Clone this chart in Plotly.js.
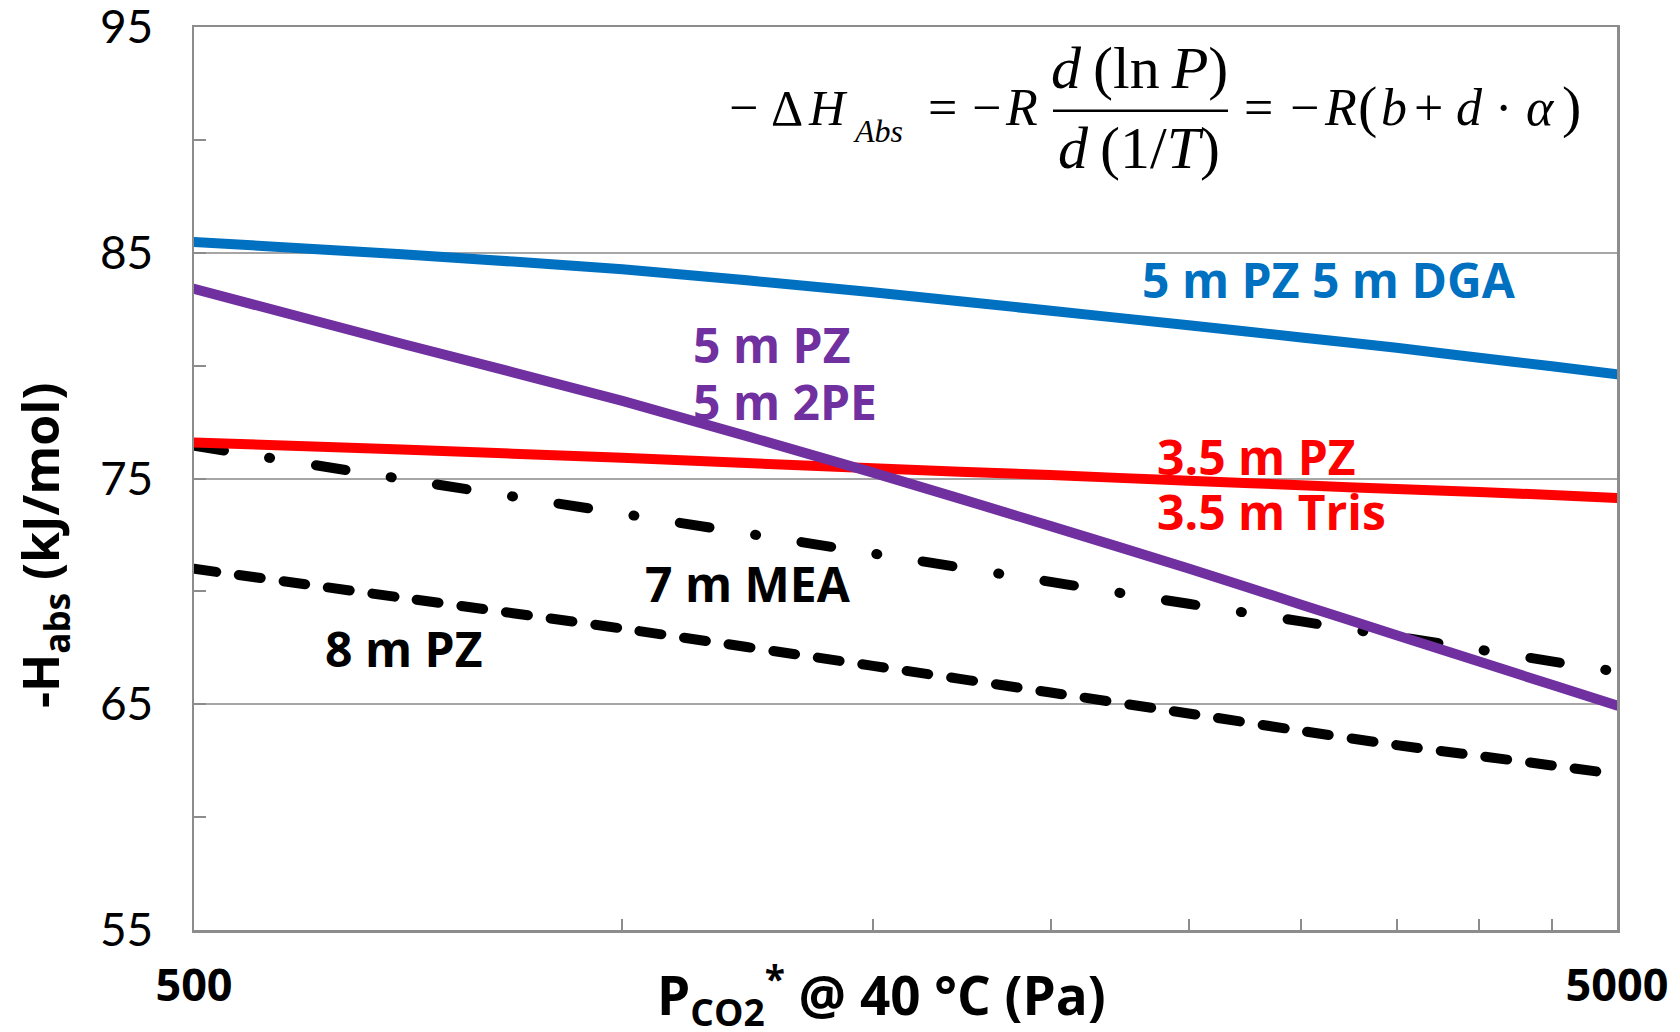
<!DOCTYPE html>
<html>
<head>
<meta charset="utf-8">
<script src="https://cdn.plot.ly/plotly-3.0.1.min.js"></script>
<style>
  html, body { margin: 0; padding: 0; background: #ffffff; }
  #chart { width: 1680px; height: 1032px; }
  /* rounded ends on the curve strokes and dashes */
  .scatterlayer .js-line { stroke-linecap: round; }
</style>
</head>
<body>
<div id="chart"></div>
<script>
// CO2 partial pressure at 40 °C (Pa)
const pressure = [500, 700, 1000, 1500, 2000, 2500, 3000, 3500, 4000, 4500, 5000];

// Heat of absorption, -H_abs (kJ/mol)
const pzDga   = [85.48, 84.93, 84.27, 83.25, 82.43, 81.79, 81.25, 80.79, 80.35, 79.97, 79.62];
const pz2pe   = [83.40, 80.97, 78.44, 75.26, 72.89, 71.01, 69.41, 68.06, 66.89, 65.86, 64.94];
const pzTris  = [76.60, 76.28, 75.92, 75.45, 75.15, 74.90, 74.70, 74.53, 74.40, 74.27, 74.14];
const mea7    = [76.45, 74.98, 73.44, 71.68, 70.42, 69.45, 68.67, 68.00, 67.42, 66.90, 66.44];
const pz8     = [71.00, 69.72, 68.35, 66.70, 65.52, 64.59, 63.82, 63.19, 62.71, 62.29, 61.90];

// Axis ticks
const xTickVals = [500, 5000];
const xTickText = ['500', '5000'];
const xMinorVals = [1000, 1500, 2000, 2500, 3000, 3500, 4000, 4500];
const yTickVals = [55, 65, 75, 85, 95];
const yTickText = ['55', '65', '75', '85', '95'];
const yMinorVals = [60, 70, 80, 90];

// Page geometry
const W = 1680, H = 1032;
const M = { l: 194, r: 63, t: 27, b: 102 };
const plotW = W - M.l - M.r, plotH = H - M.t - M.b;
const fx = p => (p - M.l) / plotW;          // pixel column -> paper x
const fy = p => (H - M.b - p) / plotH;      // pixel row -> paper y

const LABEL_FONT = 'Open Sans, Lato, sans-serif';
const MATH_FONT = 'Liberation Serif, Times New Roman, serif';

function series(y, color, dash) {
  return {
    x: pressure, y: y, type: 'scatter', mode: 'lines',
    line: { color: color, width: 10, dash: dash, shape: 'spline', smoothing: 0.6 },
    hoverinfo: 'skip', showlegend: false
  };
}

const data = [
  series(pz8, '#000000', '22px,23px'),
  series(mea7, '#000000', '30px,46px,1px,46px'),
  series(pzTris, '#FF0000', 'solid'),
  series(pz2pe, '#7030A0', 'solid'),
  series(pzDga, '#0070C0', 'solid')
];

function label(text, xPix, yPix, color) {
  return {
    text: text, xref: 'paper', yref: 'paper', x: fx(xPix), y: fy(yPix),
    xanchor: 'left', yanchor: 'middle', showarrow: false,
    font: { family: LABEL_FONT, size: 48, color: color, weight: 700 }
  };
}

// one glyph group of the formula; baseline given in pixels
function math(text, xPix, baseline, size, xanchor) {
  return {
    text: text, xref: 'paper', yref: 'paper',
    x: fx(xPix), y: fy(baseline - 0.3375 * size),
    xanchor: xanchor || 'center', yanchor: 'middle', showarrow: false,
    font: { family: MATH_FONT, size: size, color: '#000000' }
  };
}

const MAIN = 125;   // baseline of the formula's main row
const annotations = [
  label('5 m PZ 5 m DGA', 1140, 279.5, '#0070C0'),
  label('5 m PZ', 691, 344, '#7030A0'),
  label('5 m 2PE', 691, 401, '#7030A0'),
  label('3.5 m PZ', 1155, 456.5, '#FF0000'),
  label('3.5 m Tris', 1155, 511.5, '#FF0000'),
  label('7 m MEA', 643, 583.5, '#000000'),
  label('8 m PZ', 323, 648.5, '#000000'),

  // -ΔH_Abs = -R d(ln P)/d(1/T) = -R(b + d·α)
  math('\u2212', 743, MAIN, 52),
  math('\u0394', 787, MAIN, 50),
  math('<i>H</i>', 828, MAIN, 50),
  math('<i>Abs</i>', 851, 142, 32, 'left'),
  math('=', 943, MAIN, 52),
  math('\u2212', 986, MAIN, 52),
  math('<i>R</i>', 1021, MAIN, 52),
  math('<i>d</i>\u2009(ln\u2009<i>P</i>)', 1139, 88, 60),
  math('<i>d</i>\u2009(1/<i>T</i>)', 1139, 168, 60),
  math('=', 1258, MAIN, 52),
  math('\u2212', 1304, MAIN, 52),
  math('<i>R</i>', 1340, MAIN, 52),
  math('(', 1367, 126, 58),
  math('<i>b</i>', 1394, MAIN, 52),
  math('+', 1428, MAIN, 52),
  math('<i>d</i>', 1469, MAIN, 52),
  math('\u00b7', 1503, MAIN, 52),
  math('<i>\u03b1</i>', 1540, MAIN, 52),
  math(')', 1571, 126, 58),

  // axis titles
  {
    text: '-H<sub>abs</sub> (kJ/mol)', xref: 'paper', yref: 'paper',
    x: fx(43), y: fy(546), xanchor: 'center', yanchor: 'middle',
    textangle: -90, showarrow: false,
    font: { family: LABEL_FONT, size: 50, color: '#000000', weight: 700 }
  },
  {
    text: 'P<sub>CO2</sub><sup>*</sup> @ 40 \u00b0C (Pa)', xref: 'paper', yref: 'paper',
    x: fx(881), y: fy(995), xanchor: 'center', yanchor: 'middle', showarrow: false,
    font: { family: LABEL_FONT, size: 53, color: '#000000', weight: 700 }
  }
];

const shapes = [
  {
    type: 'line', xref: 'paper', yref: 'paper',
    x0: fx(1053), x1: fx(1228), y0: fy(110.7), y1: fy(110.7),
    line: { color: '#000000', width: 2.5 }
  }
];

const axisGray = '#8C8C8C';

const layout = {
  width: W, height: H,
  margin: M,
  paper_bgcolor: '#ffffff', plot_bgcolor: '#ffffff',
  showlegend: false,
  xaxis: {
    type: 'log',
    range: [Math.log10(500), Math.log10(5000)],
    tickmode: 'array', tickvals: xTickVals, ticktext: xTickText,
    ticks: 'inside', ticklen: 11, tickwidth: 2, tickcolor: axisGray,
    minor: {
      tickmode: 'array', tickvals: xMinorVals,
      ticks: 'inside', ticklen: 11, tickwidth: 2, tickcolor: axisGray,
      showgrid: false
    },
    showline: true, linecolor: axisGray, linewidth: 2.5, mirror: true,
    showgrid: false, zeroline: false,
    ticklabelstandoff: 14, ticklabeloverflow: 'allow',
    tickfont: { family: 'Noto Sans, DejaVu Sans, sans-serif', size: 45, color: '#000000', weight: 700 }
  },
  yaxis: {
    range: [55, 95],
    tickmode: 'array', tickvals: yTickVals, ticktext: yTickText,
    ticks: 'inside', ticklen: 12, tickwidth: 2, tickcolor: axisGray,
    showline: true, linecolor: axisGray, linewidth: 2.5, mirror: true,
    showgrid: true, gridcolor: '#A6A6A6', gridwidth: 2, zeroline: false,
    minor: {
      tickmode: 'array', tickvals: yMinorVals,
      ticks: 'inside', ticklen: 12, tickwidth: 2, tickcolor: axisGray,
      showgrid: false
    },
    ticklabelstandoff: 29, ticklabeloverflow: 'allow',
    tickfont: { family: 'Lato, sans-serif', size: 46, color: '#000000' }
  },
  annotations: annotations,
  shapes: shapes
};

Plotly.newPlot('chart', data, layout, { displayModeBar: false, staticPlot: true });
</script>
</body>
</html>
